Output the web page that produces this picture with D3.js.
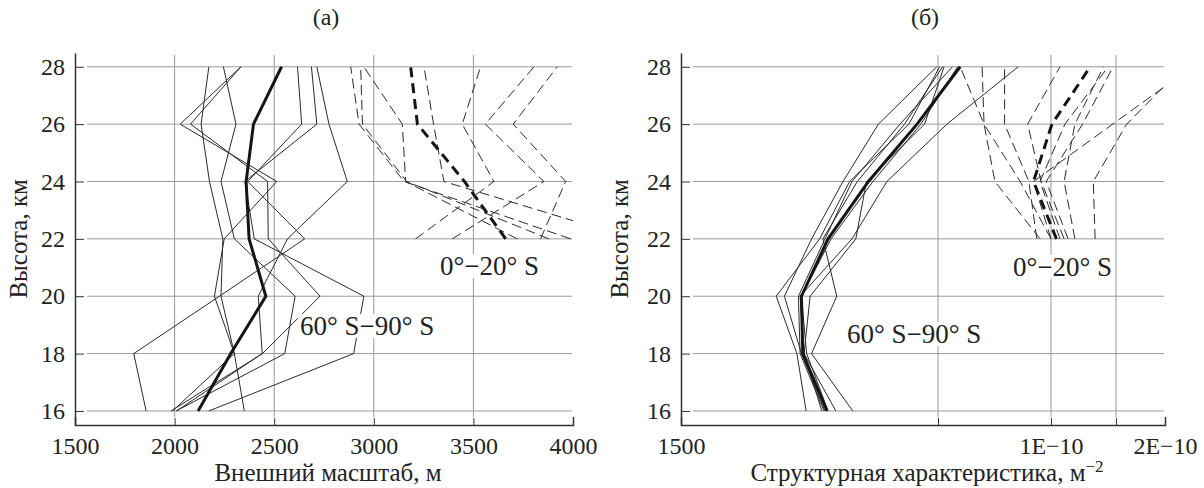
<!DOCTYPE html>
<html>
<head>
<meta charset="utf-8">
<script src="https://cdn.jsdelivr.net/npm/d3@7"></script>
<style>
  body { margin: 0; background: #fff; }
</style>
</head>
<body>
<script>
var heights = [16, 18, 20, 22, 24, 26, 28];
var heightsEq = [22, 24, 26, 28];
var yTicks = [16, 18, 20, 22, 24, 26, 28];

// (а) outer scale, m
var scaleTicks = [1500, 2000, 2500, 3000, 3500, 4000];
var scaleGrid = [2000, 2500, 3000, 3500];
var scalePolar = [
    [2350, 2300, 2233, 2242, 2175, 2133, 2172],
    [1990, 2300, 2200, 2249, 2513, 2028, 2333],
    [1982, 2441, 2730, 2470, 2467, 2080, 2333],
    [2008, 2553, 2605, 2300, 2233, 2308, 2245],
    [1857, 1795, 2225, 2653, 2367, 2638, 2617],
    [2172, 2899, 2950, 2400, 2353, 2714, 2687],
    [2010, 2440, 2420, 2567, 2867, 2775, 2714]
];
var scalePolarMean = [2118, 2282, 2458, 2374, 2359, 2396, 2537];
var scaleEq = [
    [3988, 3152, 2926, 2884],
    [3879, 3165, 2943, 2934],
    [3720, 3160, 3143, 2950],
    [4300, 3352, 3300, 3252],
    [3210, 3603, 3444, 3536],
    [3394, 3854, 3560, 3804],
    [3837, 3963, 3700, 3921]
];
var scaleEqMean = [3662, 3455, 3219, 3185];

// (б) structure characteristic, m^-2 (log axis)
var ctMarks = [3e-11, 1e-10, 2e-10];
var ctTickValues = [1.94e-12, 1e-10, 3.37e-10];
var ctTickText = ["1500", "1E\u221210", "2E\u221210"];
var ctPolar = [
    [8.7e-12, 7.2e-12, 6.9e-12, 1.2e-11, 1.74e-11, 3.3e-11, 7.05e-11],
    [7.36e-12, 6.67e-12, 5.35e-12, 8.5e-12, 1.17e-11, 2.2e-11, 3.05e-11],
    [9.0e-12, 7.0e-12, 5.84e-12, 7.8e-12, 1.09e-11, 1.59e-11, 2.96e-11],
    [1.21e-11, 7.8e-12, 1.02e-11, 8.8e-12, 1.27e-11, 2.1e-11, 3.15e-11],
    [1.01e-11, 7.2e-12, 7.68e-12, 1.25e-11, 1.40e-11, 2.6e-11, 3.2e-11],
    [8.9e-12, 6.9e-12, 6.78e-12, 9.0e-12, 1.2e-11, 2.0e-11, 3.5e-11],
    [9.3e-12, 7.4e-12, 7.0e-12, 9.6e-12, 1.5e-11, 2.5e-11, 3.7e-11]
];
var ctPolarMean = [9.2e-12, 7.1e-12, 7.0e-12, 9.3e-12, 1.43e-11, 2.4e-11, 3.8e-11];
var ctEq = [
    [8.9e-11, 5.5e-11, 4.9e-11, 3.8e-11],
    [1.0e-10, 7.2e-11, 4.9e-11, 4.8e-11],
    [8.6e-11, 7.9e-11, 6.1e-11, 6.1e-11],
    [1.15e-10, 9.0e-11, 7.8e-11, 1.10e-10],
    [1.29e-10, 1.15e-10, 1.29e-10, 1.75e-10],
    [1.1e-10, 8.9e-11, 1.16e-10, 1.84e-10],
    [1.2e-10, 9.5e-11, 1.4e-10, 1.94e-10],
    [1.6e-10, 1.57e-10, 2.24e-10, 4.1e-10],
    [1.0e-10, 8.3e-11, 1.93e-10, 4.5e-10]
];
var ctEqMean = [1.06e-10, 8.3e-11, 1.01e-10, 1.52e-10];

var FONT = "'Liberation Serif', 'DejaVu Serif', serif";
var plotTop = 53, plotBottom = 425;

var svg = d3.select("body").append("svg")
    .attr("width", 1204)
    .attr("height", 488)
    .style("font-family", FONT);

var y = d3.scaleLinear().domain([15.51, 28.48]).range([plotBottom, plotTop]);

function zip(vals, hs) {
    return vals.map(function(v, i) { return {v: v, h: hs[i]}; });
}

function label(g, txt, x, yy) {
    var t = g.append("text").attr("x", x).attr("y", yy)
        .attr("font-size", 27).attr("fill", "#222").text(txt);
    var b = t.node().getBBox();
    g.insert("rect", function() { return t.node(); })
        .attr("x", b.x - 2).attr("y", b.y + 3)
        .attr("width", b.width + 4).attr("height", b.height - 6)
        .attr("fill", "#fff");
}

function panel(p) {
    var x = p.x;
    var x0 = x.range()[0], x1 = x.range()[1];
    var g = svg.append("g");

    // grid
    g.selectAll(".hgrid").data(yTicks).join("line")
        .attr("x1", x0 + 12).attr("x2", x1 - 1)
        .attr("y1", function(d) { return y(d); })
        .attr("y2", function(d) { return y(d); })
        .attr("stroke", "#999").attr("stroke-width", 1);
    g.selectAll(".vgrid").data(p.grid).join("line")
        .attr("x1", function(d) { return x(d); })
        .attr("x2", function(d) { return x(d); })
        .attr("y1", plotTop + 2).attr("y2", plotBottom - 8)
        .attr("stroke", "#999").attr("stroke-width", 1);

    // lines
    var clipId = "clip" + p.id;
    svg.append("clipPath").attr("id", clipId).append("rect")
        .attr("x", x0).attr("y", plotTop).attr("width", x1 - x0).attr("height", plotBottom - plotTop);
    var lg = g.append("g").attr("clip-path", "url(#" + clipId + ")");
    var line = d3.line().x(function(d) { return x(d.v); }).y(function(d) { return y(d.h); });

    lg.selectAll(".pol").data(p.polar).join("path")
        .attr("d", function(d) { return line(zip(d, heights)); })
        .attr("fill", "none").attr("stroke", "#2b2b2b").attr("stroke-width", 1);
    lg.selectAll(".eq").data(p.eq).join("path")
        .attr("d", function(d) { return line(zip(d, heightsEq)); })
        .attr("fill", "none").attr("stroke", "#2b2b2b").attr("stroke-width", 1)
        .attr("stroke-dasharray", "10,5");
    lg.append("path").attr("d", line(zip(p.polarMean, heights)))
        .attr("fill", "none").attr("stroke", "#151515").attr("stroke-width", 3);
    lg.append("path").attr("d", line(zip(p.eqMean, heightsEq)))
        .attr("fill", "none").attr("stroke", "#151515").attr("stroke-width", 3)
        .attr("stroke-dasharray", "10,6");

    // region labels
    label(g, "0°\u221220° S", p.eqLabel[0], p.eqLabel[1]);
    label(g, "60° S\u221290° S", p.polLabel[0], p.polLabel[1]);

    // axes
    var ya = g.append("g").attr("transform", "translate(" + x0 + ",0)")
        .call(d3.axisLeft(y).tickValues(yTicks).tickSizeInner(-9).tickSizeOuter(0).tickPadding(10));
    var xa = g.append("g").attr("transform", "translate(0," + plotBottom + ")")
        .call(d3.axisBottom(x).tickValues(p.marks).tickSizeInner(-7).tickSizeOuter(-8).tickFormat(""));
    var xl = g.append("g").attr("transform", "translate(0," + plotBottom + ")")
        .call(d3.axisBottom(x).tickValues(p.tickValues).tickSize(0).tickPadding(12)
            .tickFormat(function(d, i) { return p.tickText[i]; }));
    xl.select(".domain").remove();
    [ya, xa, xl].forEach(function(a) {
        a.attr("font-family", FONT).attr("font-size", 24);
        a.selectAll("text").attr("fill", "#222");
        a.selectAll("line").attr("stroke", "#333").attr("stroke-width", 1);
        a.selectAll(".domain").attr("stroke", "#333").attr("stroke-width", 1.5);
    });

    // titles
    var cx = (x0 + x1) / 2;
    g.append("text").attr("x", cx + 2).attr("y", 25).attr("text-anchor", "middle")
        .attr("font-size", 24).attr("fill", "#222").text(p.title);
    var xt = g.append("text").attr("x", cx + 4).attr("y", 481).attr("text-anchor", "middle")
        .attr("font-size", 25).attr("fill", "#222").text(p.xTitle);
    if (p.sup) {
        xt.append("tspan").attr("dy", -9).attr("font-size", 17).text(p.sup);
    }
    g.append("text").attr("transform", "translate(" + (x0 - p.yTitleGap) + "," + y(22) + ") rotate(-90)")
        .attr("text-anchor", "middle").attr("font-size", 25).attr("fill", "#222")
        .text("Высота, км");
}

panel({
    id: "a",
    x: d3.scaleLinear().domain([1500, 4000]).range([75, 573]),
    grid: scaleGrid,
    marks: scaleTicks.slice(1, 5),
    tickValues: scaleTicks,
    tickText: scaleTicks.map(String),
    polar: scalePolar, polarMean: scalePolarMean,
    eq: scaleEq, eqMean: scaleEqMean,
    eqLabel: [440, 275], polLabel: [300, 335],
    yTitleGap: 48,
    title: "(а)",
    xTitle: "Внешний масштаб, м"
});

panel({
    id: "b",
    x: d3.scaleLog().domain([1.94e-12, 3.37e-10]).range([681, 1165]),
    grid: ctMarks,
    marks: ctMarks,
    tickValues: ctTickValues,
    tickText: ctTickText,
    polar: ctPolar, polarMean: ctPolarMean,
    eq: ctEq, eqMean: ctEqMean,
    eqLabel: [1013, 276], polLabel: [847, 343],
    yTitleGap: 53,
    title: "(б)",
    xTitle: "Структурная характеристика, м",
    sup: "\u22122"
});
</script>
</body>
</html>
